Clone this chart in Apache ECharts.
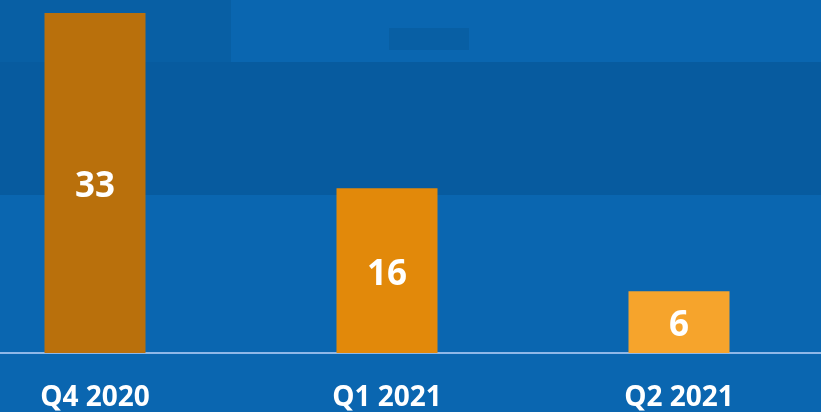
<!DOCTYPE html>
<html>
<head>
<meta charset="utf-8">
<script src="https://cdn.jsdelivr.net/npm/echarts@6/dist/echarts.min.js"></script>
<style>
  html, body { margin: 0; padding: 0; background: #0a66b0; overflow: hidden; }
  #wrap { width: 821px; height: 412px; overflow: hidden; position: relative; }
  /* the first category is cut off on the left in the original, so the chart is wider than the window */
  #chart { width: 876px; height: 412px; position: absolute; left: -51.5px; top: 0; }
</style>
</head>
<body>
<div id="wrap"><div id="chart"></div></div>
<script>
  var categories = ['Q4 2020', 'Q1 2021', 'Q2 2021']
  var values = [33, 16, 6]
  var barColors = ['#b9700c', '#e2890a', '#f6a42c']

  var chart = echarts.init(document.getElementById('chart'))
  var option = {
    backgroundColor: '#0a66b0',
    graphic: [
      // darker band of the background photo
      { type: 'rect', z: -10, shape: { x: 0, y: 62, width: 876, height: 133 }, style: { fill: '#075b9f' } },
      { type: 'rect', z: -10, shape: { x: 0, y: 0, width: 282, height: 62 }, style: { fill: '#085fa4' } },
      { type: 'rect', z: -10, shape: { x: 440, y: 28, width: 80, height: 22 }, style: { fill: '#085fa4' } }
    ],
    grid: {
      left: 0,
      right: 0,
      top: 13,
      bottom: 58,
      containLabel: false
    },
    xAxis: {
      type: 'category',
      data: categories,
      axisTick: { show: false },
      axisLine: {
        lineStyle: { color: '#8fb8e8', width: 2 }
      },
      axisLabel: {
        color: '#ffffff',
        fontFamily: 'Open Sans',
        fontWeight: 'bold',
        fontSize: 28,
        margin: 31
      }
    },
    yAxis: {
      type: 'value',
      min: 0,
      max: 33,
      show: false,
      splitLine: { show: false }
    },
    series: [
      {
        type: 'bar',
        barWidth: 101,
        data: values.map(function (v, i) {
          return { value: v, itemStyle: { color: barColors[i] } }
        }),
        label: {
          show: true,
          position: 'inside',
          offset: [0, 4],
          color: '#ffffff',
          fontFamily: 'Open Sans',
          fontWeight: 'bold',
          fontSize: 35
        }
      }
    ]
  }
  chart.setOption(option)
</script>
</body>
</html>
